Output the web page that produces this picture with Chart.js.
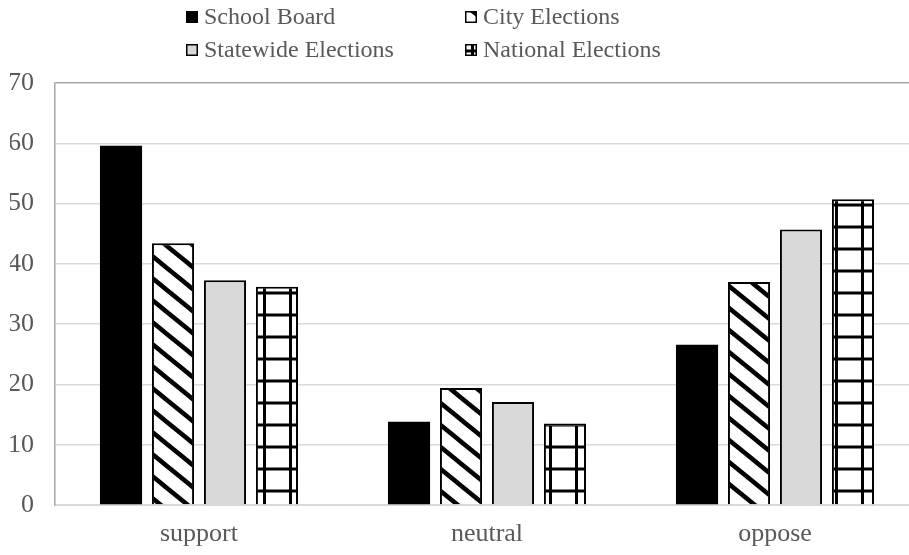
<!DOCTYPE html>
<html>
<head>
<meta charset="utf-8">
<script src="https://cdn.jsdelivr.net/npm/chart.js@4"></script>
<style>
  html, body { margin: 0; padding: 0; background: #fff; overflow: hidden; }
  #wrap { width: 920px; height: 555px; }
</style>
</head>
<body>
<div id="wrap"><canvas id="grafico"></canvas></div>
<script>
const categorias = ['support', 'neutral', 'oppose']
const schoolBoard = [59.6, 13.8, 26.6]
const cityElections = [43.4, 19.4, 37.0]
const statewideElections = [37.3, 17.1, 45.7]
const nationalElections = [36.2, 13.5, 50.7]
const yMin = 0, yMax = 70, yStep = 10

const fonte = "'Liberation Serif', 'Times New Roman', serif"
const cinzaTexto = '#595959'

// diagonal stripes, top-left to bottom-right
const listras = (() => {
  const w = 27, h = 22
  const c = document.createElement('canvas')
  c.width = w; c.height = h
  const g = c.getContext('2d')
  g.fillStyle = '#fff'
  g.fillRect(0, 0, w, h)
  g.strokeStyle = '#000'
  g.lineWidth = 4.5
  for (let k = -1; k <= 1; k++) {
    g.beginPath()
    g.moveTo(-w, -h + k * h)
    g.lineTo(2 * w, 2 * h + k * h)
    g.stroke()
  }
  return g.createPattern(c, 'repeat')
})()

// square grid
const grade = (() => {
  const w = 26, h = 22
  const c = document.createElement('canvas')
  c.width = w; c.height = h
  const g = c.getContext('2d')
  g.fillStyle = '#fff'
  g.fillRect(0, 0, w, h)
  g.fillStyle = '#000'
  g.fillRect(3, 0, 3, h)
  g.fillRect(0, 5.5, w, 3)
  return g.createPattern(c, 'repeat')
})()

// two-column legend at the top
const legenda = {
  id: 'legenda',
  afterDraw(chart) {
    const ctx = chart.ctx
    const colX = [186, 465]
    const rowY = [17, 50]
    ctx.save()
    ctx.font = '24px ' + fonte
    ctx.textBaseline = 'middle'
    chart.data.datasets.forEach((ds, i) => {
      const x = colX[i % 2], y = rowY[Math.floor(i / 2)]
      ctx.fillStyle = ds.backgroundColor
      ctx.fillRect(x, y - 6, 12, 12)
      if (ds.borderWidth) {
        ctx.strokeStyle = '#000'
        ctx.lineWidth = 1.5
        ctx.strokeRect(x + 0.75, y - 5.25, 10.5, 10.5)
      }
      ctx.fillStyle = cinzaTexto
      ctx.fillText(ds.label, x + 18, y + 1)
    })
    ctx.restore()
  }
}

const ctx = document.getElementById('grafico')
let grafico = new Chart(ctx, {
  type: 'bar',
  data: {
    labels: categorias,
    datasets: [
      { label: 'School Board', data: schoolBoard, backgroundColor: '#000', borderWidth: 0 },
      { label: 'City Elections', data: cityElections, backgroundColor: listras, borderColor: '#000', borderWidth: 2 },
      { label: 'Statewide Elections', data: statewideElections, backgroundColor: '#d9d9d9', borderColor: '#000', borderWidth: 2 },
      { label: 'National Elections', data: nationalElections, backgroundColor: grade, borderColor: '#000', borderWidth: 2 }
    ]
  },
  options: {
    responsive: true,
    maintainAspectRatio: false,
    animation: false,
    datasets: { bar: { categoryPercentage: 0.722, barPercentage: 0.81 } },
    layout: { padding: { top: 83, left: 10, right: 1, bottom: 8 } },
    plugins: { legend: { display: false }, tooltip: { enabled: false } },
    scales: {
      x: {
        grid: { display: false, drawTicks: false },
        border: { color: '#d9d9d9', width: 2 },
        ticks: { color: cinzaTexto, font: { family: fonte, size: 26 }, padding: 14 },
        afterFit: s => { s.height = 42 }
      },
      y: {
        min: yMin,
        max: yMax,
        ticks: { stepSize: yStep, color: cinzaTexto, font: { family: fonte, size: 26 }, padding: 21 },
        grid: {
          drawTicks: false,
          lineWidth: 1.5,
          color: c => c.tick && c.tick.value === yMax ? '#a6a6a6' : '#d9d9d9'
        },
        border: { color: '#a6a6a6', width: 1.5 },
        afterFit: s => { s.width = 45 }
      }
    }
  },
  plugins: [legenda]
})
</script>
</body>
</html>
